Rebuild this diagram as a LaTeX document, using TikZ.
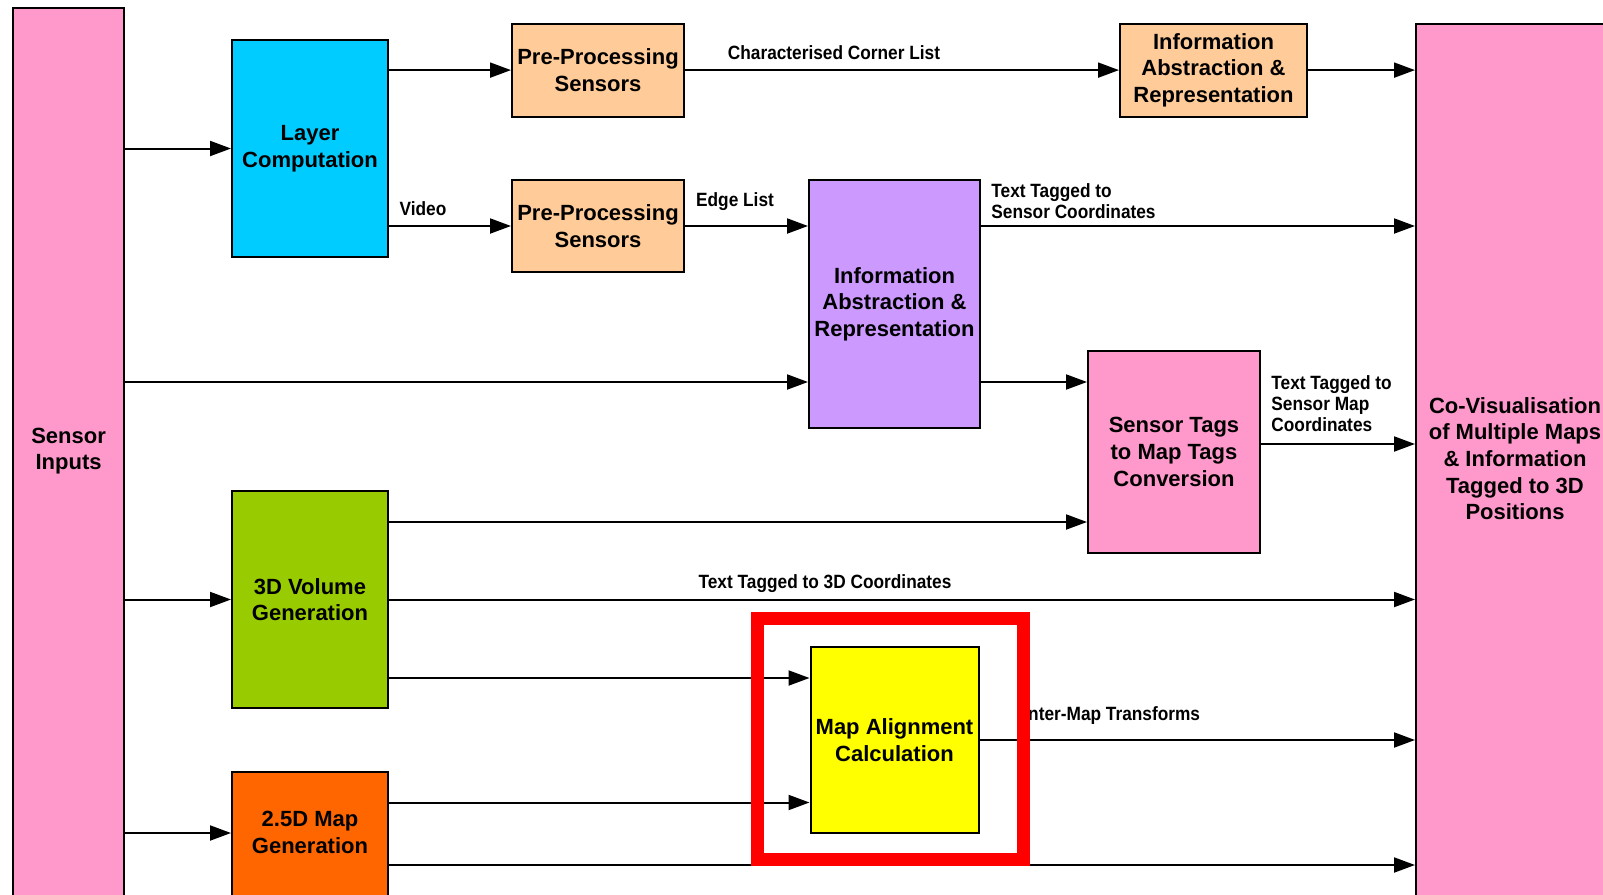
\documentclass[tikz,border=0pt]{standalone}
\usepackage{fontspec}
\setmainfont{Liberation Sans}
\newfontfamily\labelfont[FakeStretch=0.9]{Liberation Sans}
\usetikzlibrary{arrows.meta}
\definecolor{sensorpink}{HTML}{FF99CC}
\definecolor{layercyan}{HTML}{00CCFF}
\definecolor{prepeach}{HTML}{FFCC99}
\definecolor{infopurple}{HTML}{CC99FF}
\definecolor{volgreen}{HTML}{99CC00}
\definecolor{maporange}{HTML}{FF6600}
\definecolor{alignyellow}{HTML}{FFFF00}
\definecolor{framered}{HTML}{FF0000}

\begin{document}
\begin{tikzpicture}[x=0.5pt, y=-0.5pt,
	block/.style={draw=black, line width=1pt, inner sep=1pt, align=center,
		font=\bfseries\fontsize{11}{13.3}\selectfont},
	blocktext/.style={inner sep=0pt, align=center, font=\bfseries\fontsize{11}{13.3}\selectfont},
	flowlabel/.style={inner sep=0pt, align=left, font=\labelfont\bfseries\fontsize{9.6}{10.5}\selectfont},
	arr/.style={-{Triangle[length=10.5pt,width=7.5pt]}, line width=1pt},
	redframe/.style={draw=framered, line width=6.5pt}]
			%%%%% START %%%%%
			\clip (0,0) rectangle (1603,895);
			
			% sensor inputs and output box
			\node[block, fill=sensorpink, minimum width=55.3pt, minimum height=456pt] (sensor) at (68.6,464) {};
			\node[blocktext] (sensortext) at (68.6,451) {Sensor\\Inputs};
			\node[block, fill=sensorpink, minimum width=117pt, minimum height=453pt] (covis) at (1533,477) {};
			\node[blocktext] (covistext) at (1515,458.6) {Co-Visualisation\\of Multiple Maps\\\& Information\\Tagged to 3D\\Positions};
			
			% first column
			\node[block, fill=layercyan, minimum width=78pt, minimum height=108.5pt] (layer) at (310,148.5) {Layer\\Computation};
			\node[block, fill=volgreen, minimum width=78pt, minimum height=108.5pt] (vol) at (310,599.5) {3D Volume\\Generation};
			\node[block, fill=maporange, minimum width=78pt, minimum height=79pt] (map25) at (310,851) {};
			\node[blocktext] (map25text) at (310,832.7) {2.5D Map\\Generation};
			
			% pre-processing
			\node[block, fill=prepeach, minimum width=86pt, minimum height=46.6pt] (pp1) at (598,70.1) {Pre-Processing\\Sensors};
			\node[block, fill=prepeach, minimum width=86pt, minimum height=46pt] (pp2) at (598,226) {Pre-Processing\\Sensors};
			
			% abstraction and alignment
			\node[block, fill=prepeach, minimum width=93.5pt, minimum height=46.6pt] (info1) at (1213.5,70.1) {Information\\Abstraction \&\\Representation};
			\node[block, fill=infopurple, minimum width=85.5pt, minimum height=124pt] (info2) at (894.5,304) {Information\\Abstraction \&\\Representation};
			\node[block, fill=sensorpink, minimum width=86pt, minimum height=101pt] (tags) at (1174,452) {Sensor Tags\\to Map Tags\\Conversion};
			\node[block, fill=alignyellow, minimum width=84pt, minimum height=93pt] (align) at (894.5,740) {Map Alignment\\Calculation};
			
			% rows of the connectors
			\coordinate (rowdirect) at (0,382);
			\coordinate (rowmaptags) at (0,444);
			\coordinate (rowvoltags) at (0,522);
			\coordinate (rowvolalign) at (0,678);
			\coordinate (rowmapalign) at (0,802.5);
			\coordinate (rowmapin) at (0,833);
			\coordinate (rowmapout) at (0,865);
			
			\draw[arr] (sensor.east |- layer) -- (layer.west);
			\draw[arr] (layer.east |- pp1) -- (pp1.west);
			\draw[arr] (pp1.east) -- (info1.west);
			\draw[arr] (info1.east) -- (covis.west |- info1);
			
			\draw[arr] (layer.east |- pp2) -- (pp2.west);
			\draw[arr] (pp2.east) -- (info2.west |- pp2);
			\draw[arr] (info2.east |- pp2) -- (covis.west |- pp2);
			
			\draw[arr] (sensor.east |- rowdirect) -- (info2.west |- rowdirect);
			\draw[arr] (info2.east |- rowdirect) -- (tags.west |- rowdirect);
			\draw[arr] (tags.east |- rowmaptags) -- (covis.west |- rowmaptags);
			
			\draw[arr] (vol.east |- rowvoltags) -- (tags.west |- rowvoltags);
			\draw[arr] (sensor.east |- vol) -- (vol.west);
			\draw[arr] (vol.east) -- (covis.west |- vol);
			\draw[arr] (vol.east |- rowvolalign) -- (align.west |- rowvolalign);
			
			\draw[arr] (sensor.east |- rowmapin) -- (map25.west |- rowmapin);
			\draw[arr] (map25.east |- rowmapalign) -- (align.west |- rowmapalign);
			\draw[arr] (align.east) -- (covis.west |- align);
			\draw[arr] (map25.east |- rowmapout) -- (covis.west |- rowmapout);
			
			% connector labels
			\node[flowlabel] (lblcorner) at (834,53) {Characterised Corner List};
			\node[flowlabel] (lblvideo) at (423,209) {Video};
			\node[flowlabel] (lbledge) at (735,201.6) {Edge List};
			\node[flowlabel, anchor=west] (lblsensor) at (991,201) {Text Tagged to\\Sensor Coordinates};
			\node[flowlabel, anchor=west] (lblsensormap) at (1271,404) {Text Tagged to\\Sensor Map\\Coordinates};
			\node[flowlabel] (lbl3d) at (825,583.5) {Text Tagged to 3D Coordinates};
			\node[flowlabel, anchor=west] (lbltransform) at (1023,715.5) {Inter-Map Transforms};
			
			% highlight
			\draw[redframe] (757.5,618.5) rectangle (1023.5,859.5);
			
			%%%%% END %%%%%
		\end{tikzpicture}
\end{document}
